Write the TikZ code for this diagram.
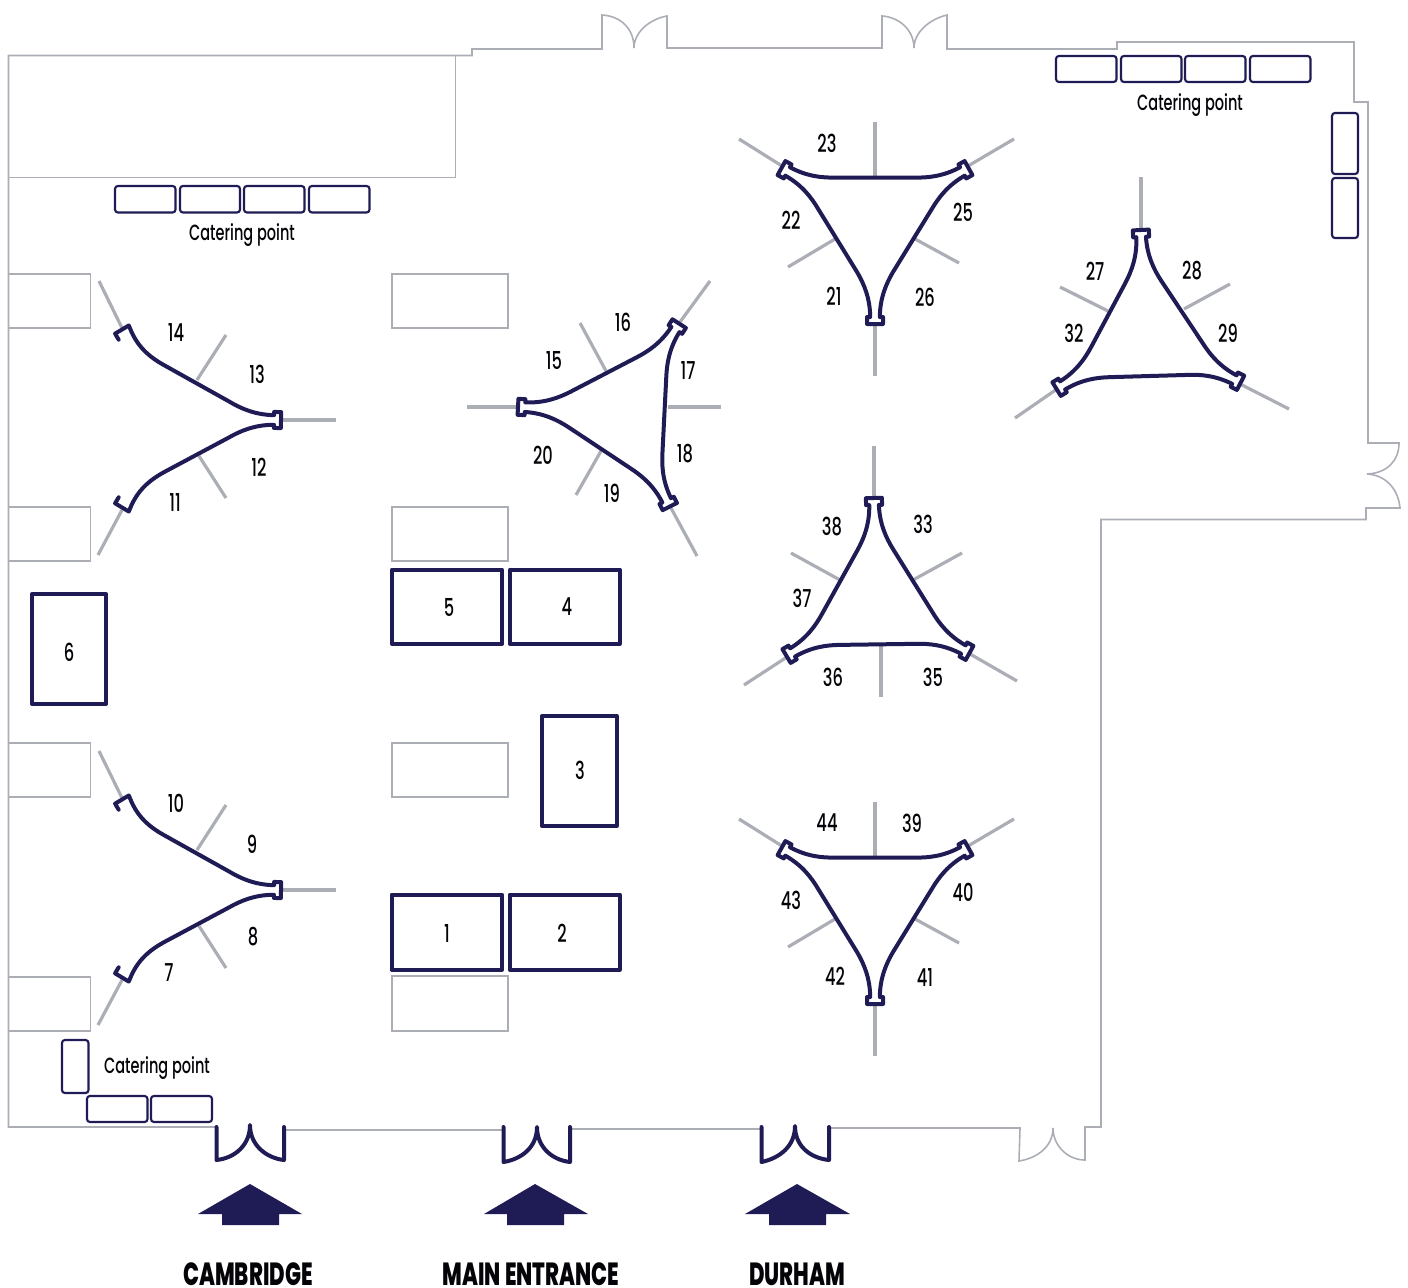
\documentclass[tikz,border=0pt]{standalone}
\usepackage{fontspec}
\usepackage{graphicx}
\setmainfont{Poppins}
\newfontfamily\medfont{Poppins Medium}
\newfontfamily\heavyfont{Poppins ExtraBold}
\definecolor{navy}{HTML}{1F1B54}
\definecolor{wallgrey}{HTML}{ABAEB5}
\tikzset{
  wall/.style={draw=wallgrey,line width=1.2pt,line join=miter},
  roomline/.style={draw=wallgrey,line width=1.1pt},
  spoke/.style={draw=wallgrey,line width=2.4pt},
  trussline/.style={draw=navy,line width=3pt,line join=round,line cap=round},
  doorline/.style={draw=navy,line width=3pt,line join=round,line cap=round},
  standbox/.style={draw=navy,line width=3pt,line join=round},
  cater/.style={draw=navy,line width=1.6pt,rounded corners=2.2pt},
  entry/.style={fill=navy,draw=none},
  txt/.style={inner sep=0pt,text=black!90!navy},
}
\newcommand{\numsty}[1]{\scalebox{0.66}[1]{\fontsize{18.5}{20}\medfont\selectfont #1}}
\newcommand{\catsty}[1]{\scalebox{0.66}[1]{\fontsize{16.5}{20}\medfont\selectfont #1}}
\newcommand{\gatesty}[1]{\scalebox{0.66}[1]{\fontsize{24}{26}\heavyfont\selectfont #1}}
\newcommand{\lab}[4]{\node[txt] (#1) at (#2,#3) {\numsty{#4}};}
\newcommand{\lug}[4]{%
  \begin{scope}[shift={(#2,#3)},rotate=#4]
    \coordinate (#1-Ol) at (4,8);     \coordinate (#1-Or) at (4,-8);
    \coordinate (#1-Il) at (-3,8);    \coordinate (#1-Ir) at (-3,-8);
    \coordinate (#1-Nl) at (-3,4.8);  \coordinate (#1-Nr) at (-3,-4.8);
    \coordinate (#1-Ul) at (-3,7);    \coordinate (#1-Ur) at (-3,-7);
    \coordinate (#1-Al) at (-22,5);   \coordinate (#1-Ar) at (-22,-5);
    \coordinate (#1-Bl) at (-36,11);  \coordinate (#1-Br) at (-36,-11);
    \coordinate (#1-Sl) at (-48,18);  \coordinate (#1-Sr) at (-48,-18);
  \end{scope}}
\newcommand{\threelugs}[6]{%
  \pgfmathsetmacro{\ox}{(#1+#3+#5)/3}%
  \pgfmathsetmacro{\oy}{(#2+#4+#6)/3}%
  \pgfmathsetmacro{\anga}{atan2(-(#2-\oy),#1-\ox)}%
  \pgfmathsetmacro{\angb}{atan2(-(#4-\oy),#3-\ox)}%
  \pgfmathsetmacro{\angc}{atan2(-(#6-\oy),#5-\ox)}%
  \lug{a}{#1}{#2}{\anga}\lug{b}{#3}{#4}{\angb}\lug{c}{#5}{#6}{\angc}}
\newcommand{\sidecurve}[2]{(#1-Nl) .. controls (#1-Al) and (#1-Bl) .. (#1-Sl) -- (#2-Sr) .. controls (#2-Br) and (#2-Ar) .. (#2-Nr)}
\newcommand{\closedtruss}[6]{%
  \threelugs{#1}{#2}{#3}{#4}{#5}{#6}
  \draw[trussline] \sidecurve{a}{b} -- (b-Ir) -- (b-Or) -- (b-Ol) -- (b-Il) -- \sidecurve{b}{c}
    -- (c-Ir) -- (c-Or) -- (c-Ol) -- (c-Il) -- \sidecurve{c}{a}
    -- (a-Ir) -- (a-Or) -- (a-Ol) -- (a-Il) -- cycle;}
\newcommand{\opentruss}[6]{%
  \threelugs{#1}{#2}{#3}{#4}{#5}{#6}
  \draw[trussline] (a-Ir) -- (a-Or) -- (a-Ol) -- (a-Ul) .. controls (a-Al) and (a-Bl) .. (a-Sl) -- (b-Sr)
    .. controls (b-Br) and (b-Ar) .. (b-Nr) -- (b-Ir) -- (b-Or) -- (b-Ol) -- (b-Il) -- (b-Nl)
    .. controls (b-Al) and (b-Bl) .. (b-Sl) -- (c-Sr) .. controls (c-Br) and (c-Ar) .. (c-Ur)
    -- (c-Or) -- (c-Ol) -- (c-Il);}
\begin{document}
\begin{tikzpicture}[x=0.75pt,y=-0.75pt]
\useasboundingbox (0,0) rectangle (1408,1287);

% outer walls
\draw[wall] (216,1127) -- (8.5,1127) -- (8.5,55.5) -- (455.5,55.5) -- (472,55.5) -- (472,49) -- (602,49) -- (602,15)
  .. controls (620,16) and (634,28) .. (634,48) .. controls (634,32) and (650,19) .. (667,16)
  -- (667,48) -- (882,48) -- (882,16)
  .. controls (899,17) and (914,30) .. (914,48) .. controls (914,32) and (930,19) .. (947,15)
  -- (947,49) -- (1117,49) -- (1117,42) -- (1354,42) -- (1354,102) -- (1368,102) -- (1368,443) -- (1399,443)
  .. controls (1399,460) and (1388,473) .. (1367,474) .. controls (1385,475) and (1398,488) .. (1400,508)
  -- (1366,508) -- (1366,519.5) -- (1101,519.5) -- (1101,1127) -- (1085,1127) -- (1085,1160)
  .. controls (1068,1160) and (1053,1146) .. (1053,1128) .. controls (1053,1146) and (1038,1158) .. (1019,1161)
  -- (1020,1128) -- (829,1128);
\draw[wall] (284,1130) -- (503,1130);
\draw[wall] (570,1129) -- (761,1129);
% upper left room
\draw[wall] (455.5,55.5) -- (455.5,177.5) -- (8.5,177.5);
% grey rooms
\foreach \xa/\ya/\xb/\yb in {8.5/274/90.5/328,8.5/507/90.5/561,8.5/743/90.5/797,8.5/977/90.5/1031,
  392/274/508/328,392/507/508/561,392/743/508/797,392/976/508/1031}
  \draw[roomline] (\xa,\ya) rectangle (\xb,\yb);

% spokes
\foreach \xa/\ya/\xb/\yb in {
  875/122/875/177, 739/139/782/166, 1014/139/968/166, 875/325/875/376, 788/267/835/239, 959/263/915/239,
  1141/177/1141/230, 1060/287/1108/311, 1230/284/1184/309, 1015/418/1057/389, 1289/409/1240/384,
  874/446/874/498, 791/553/840/580, 962/553/913/580, 744/685/787/657, 1017/681/970/654, 881/646/881/697,
  875/802/875/857, 739/819/782/846, 1014/819/968/846, 875/1005/875/1056, 788/947/835/919, 959/943/915/919,
  467/407/518/407, 721/407/668/407, 580/323/606/371, 710/281/680/322, 576/495/601/451, 697/556/671/508,
  99/281/122/328, 226/335/197/380, 336/420/282/420, 226/498/199/456, 98/555/122/510,
  99/751/122/798, 226/805/197/850, 336/890/282/890, 226/968/199/926, 98/1025/122/980}
  \draw[spoke] (\xa,\ya) -- (\xb,\yb);

% trusses (corners clockwise on the page)
\closedtruss{875}{320}{785}{170}{965}{170}
\closedtruss{1060}{387}{1141}{234}{1237}{381}
\closedtruss{790}{654}{874}{502}{966}{651}
\closedtruss{875}{1000}{785}{850}{965}{850}
\closedtruss{522}{407}{677}{327}{668}{503}
\opentruss{124}{333}{277}{420}{124}{504}
\opentruss{124}{803}{277}{890}{124}{974}

% numbered stands
\draw[standbox] (392,569.5) rectangle (502,644);
\draw[standbox] (510,569.5) rectangle (619.5,644);
\draw[standbox] (32,594) rectangle (106,704);
\draw[standbox] (542,716) rectangle (616.7,826);
\draw[standbox] (391.5,894.5) rectangle (502,969.7);
\draw[standbox] (509.7,894.5) rectangle (619.5,969.7);

% catering boxes
\foreach \xa/\ya/\xb/\yb in {115/186/175.5/212.5,180/186/240/212.5,244/186/304.5/212.5,309/186/369.5/212.5,
  1056/56/1116.5/82,1121/56/1181.5/82,1185/56/1245.5/82,1250/56/1310.5/82,
  1332/113/1358/174,1332/178/1358/238,
  62/1040/88.5/1093,87/1096/147.5/1122,151/1096/212/1122}
  \draw[cater] (\xa,\ya) rectangle (\xb,\yb);

% entrance doors
\draw[doorline] (216.5,1127) -- (216.5,1160) .. controls (235,1158) and (250,1145) .. (250,1125)
  .. controls (250,1145) and (266,1158) .. (284,1160) -- (284,1127);
\draw[doorline] (503.5,1127) -- (503.5,1162) .. controls (522,1159) and (537,1147) .. (537,1127)
  .. controls (537,1147) and (552,1160) .. (570,1162) -- (570,1127);
\draw[doorline] (761.5,1127) -- (761.5,1162) .. controls (780,1158) and (795,1146) .. (795,1126)
  .. controls (795,1146) and (810,1158) .. (829,1160) -- (829,1127);

% entrance arrows
\fill[entry] (250,1184) -- (302,1214) -- (279,1214) -- (279,1225) -- (222,1225) -- (222,1214) -- (198,1214) -- cycle;
\fill[entry] (535,1184) -- (588,1214) -- (564,1214) -- (564,1225) -- (507,1225) -- (507,1214) -- (484,1214) -- cycle;
\fill[entry] (797,1184) -- (850,1214) -- (826,1214) -- (826,1225) -- (769,1225) -- (769,1214) -- (745,1214) -- cycle;

% labels
\foreach \nm/\x/\y/\t in {
 n1/447/933/1,n2/562/933/2,n3/580/770/3,n4/567/607/4,n5/449/607/5,n6/69/652/6,
 n7/169/973/7,n8/253/937/8,n9/252/844/9,n10/176/803/10,n11/175/503/11,n12/259/467/12,n13/257/374/13,n14/176/333/14,
 n15/554/360/15,n16/623/322/16,n17/688/371/17,n18/685/454/18,n19/612/493/19,n20/543/455/20,
 n21/834/296/21,n22/791/220/22,n23/827/143/23,n25/963/212/25,n26/925/297/26,
 n27/1095/271/27,n28/1192/271/28,n29/1228/333/29,n32/1074/333/32,
 n33/923/524/33,n35/933/677/35,n36/833/677/36,n37/802/598/37,n38/832/527/38,
 n39/912/823/39,n40/963/892/40,n41/925/977/41,n42/835/976/42,n43/791/900/43,n44/827/823/44}
 {\lab{\nm}{\x}{\y}{\t}}

\node[txt] (cat1) at (242,235) {\catsty{Catering point}};
\node[txt] (cat2) at (1190,105) {\catsty{Catering point}};
\node[txt] (cat3) at (157,1068) {\catsty{Catering point}};
\node[txt] (gate1) at (248,1274) {\gatesty{CAMBRIDGE}};
\node[txt] (gate2) at (531,1274) {\gatesty{MAIN ENTRANCE}};
\node[txt] (gate3) at (797,1274) {\gatesty{DURHAM}};
\end{tikzpicture}
\end{document}
